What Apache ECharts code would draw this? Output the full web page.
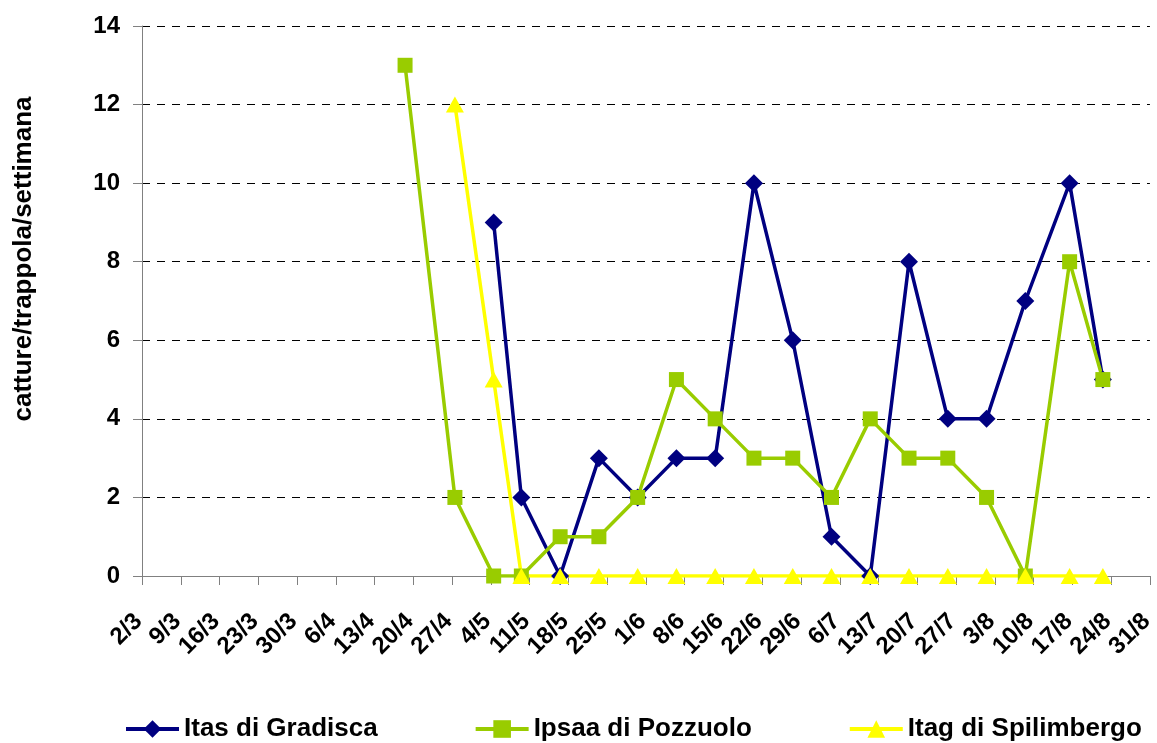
<!DOCTYPE html>
<html>
<head>
<meta charset="utf-8">
<script src="https://cdn.jsdelivr.net/npm/echarts@6/dist/echarts.min.js"></script>
<style>
html,body{margin:0;padding:0;background:#fff;}
#chart{width:1157px;height:743px;}
</style>
</head>
<body>
<div id="chart"></div>
<script>
// Tick labels (weekly, starting 2/3)
const tickLabels = ['2/3','9/3','16/3','23/3','30/3','6/4','13/4','20/4','27/4','4/5','11/5','18/5','25/5','1/6','8/6','15/6','22/6','29/6','6/7','13/7','20/7','27/7','3/8','10/8','17/8','24/8','31/8'];
// Sampling positions in days after 2/3
const itasDays  = [63.5, 68.5, 75.5, 82.5, 89.5, 96.5, 103.5, 110.5, 117.5, 124.5, 131.5, 138.5, 145.5, 152.5, 159.5, 167.5, 173.5];
const itasValues = [9, 2, 0, 3, 2, 3, 3, 10, 6, 1, 0, 8, 4, 4, 7, 10, 5];
const ipsaaDays = [47.5, 56.5, 63.5, 68.5, 75.5, 82.5, 89.5, 96.5, 103.5, 110.5, 117.5, 124.5, 131.5, 138.5, 145.5, 152.5, 159.5, 167.5, 173.5];
const ipsaaValues = [13, 2, 0, 0, 1, 1, 2, 5, 4, 3, 3, 2, 4, 3, 3, 2, 0, 8, 5];
const itagDays  = [56.5, 63.5, 68.5, 75.5, 82.5, 89.5, 96.5, 103.5, 110.5, 117.5, 124.5, 131.5, 138.5, 145.5, 152.5, 159.5, 167.5, 173.5];
const itagValues = [12, 5, 0, 0, 0, 0, 0, 0, 0, 0, 0, 0, 0, 0, 0, 0, 0, 0];
const seriesNames = ['Itas di Gradisca', 'Ipsaa di Pozzuolo', 'Itag di Spilimbergo'];
const yTitle = 'catture/trappola/settimana';

const FONT = "'Liberation Sans', Arial, sans-serif";
function pairs(xs, ys){ return xs.map((x,i)=>[x, ys[i]]); }

const chart = echarts.init(document.getElementById('chart'), null, {renderer:'canvas'});
chart.setOption({
  animation: false,
  backgroundColor: '#fff',
  grid: {left: 142, right: 1, top: 26, bottom: 167, containLabel: false},
  xAxis: {
    type: 'value', min: 0, max: 182, interval: 7,
    axisLine: {show: true, lineStyle: {color: '#808080', width: 1}},
    axisTick: {show: true, length: 9, lineStyle: {color: '#808080'}},
    splitLine: {show: false},
    axisLabel: {
      rotate: 45, margin: 38, padding: [0, 5, 0, 0],
      color: '#000', fontFamily: FONT, fontWeight: 'bold', fontSize: 24,
      showMinLabel: true, showMaxLabel: true,
      formatter: function(v){ return tickLabels[Math.round(v/7)] || ''; }
    }
  },
  yAxis: {
    type: 'value', min: 0, max: 14, interval: 2,
    axisLine: {show: true, lineStyle: {color: '#808080', width: 1}},
    axisTick: {show: true, length: 9, lineStyle: {color: '#808080'}},
    splitLine: {show: true, lineStyle: {color: '#000', width: 1, type: [8, 7]}},
    axisLabel: {margin: 22, color: '#000', fontFamily: FONT, fontWeight: 'bold', fontSize: 24}
  },
  graphic: [{
    type: 'text', x: 24, y: 259, rotation: Math.PI/2,
    style: {text: yTitle, align: 'center', verticalAlign: 'middle', textAlign: 'center', textVerticalAlign: 'middle',
            fill: '#000', font: "bold 26px " + FONT}
  }],
  legend: {
    left: 124, top: 716, padding: 0, itemWidth: 53, itemHeight: 22, itemGap: 96,
    lineStyle: {width: 4},
    textStyle: {color: '#000', fontFamily: FONT, fontWeight: 'bold', fontSize: 26},
    data: seriesNames
  },
  series: [
    {name: seriesNames[0], type: 'line', data: pairs(itasDays, itasValues),
     symbol: 'diamond', symbolSize: 18, color: '#000080',
     lineStyle: {width: 3.5, color: '#000080'}, itemStyle: {color: '#000080'}},
    {name: seriesNames[1], type: 'line', data: pairs(ipsaaDays, ipsaaValues),
     symbol: 'rect', symbolSize: 15, color: '#99CC00',
     lineStyle: {width: 3.5, color: '#99CC00'}, itemStyle: {color: '#99CC00'}},
    {name: seriesNames[2], type: 'line', data: pairs(itagDays, itagValues),
     symbol: 'triangle', symbolSize: [18, 16], color: '#FFFF00',
     lineStyle: {width: 3.5, color: '#FFFF00'}, itemStyle: {color: '#FFFF00'}}
  ]
});
</script>
</body>
</html>
